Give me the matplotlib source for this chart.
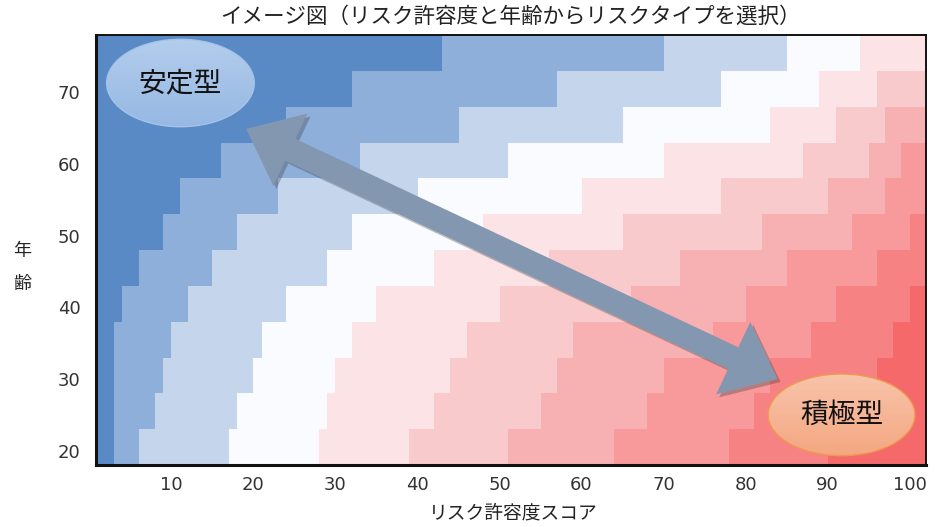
import numpy as np
import matplotlib
matplotlib.use("Agg")
import matplotlib.pyplot as plt
from matplotlib.patches import Ellipse, Polygon

plt.rcParams['font.family'] = ['Noto Sans CJK JP', 'DejaVu Sans']

# -----------------
# DATA
# -----------------
TITLE = 'イメージ図（リスク許容度と年齢からリスクタイプを選択）'
X_LABEL = 'リスク許容度スコア'
Y_LABEL = '年齢'

SCORE_RANGE = (0.8, 102.0)
AGE_EDGES = [18, 23, 28, 33, 38, 43, 48, 53, 58, 63, 68, 73, 78]
X_TICKS = [10, 20, 30, 40, 50, 60, 70, 80, 90, 100]
Y_TICKS = [20, 30, 40, 50, 60, 70]

# colour bands, from "stable" (blue) to "aggressive" (red)
BAND_COLORS = ['#5A8AC6', '#8EAFD9', '#C5D6EC', '#FAFBFE', '#FCE3E5',
               '#F9CACC', '#F8B1B3', '#F89A9B', '#F78284', '#F6696B']

# score where each row switches to the next band (bottom row first)
BAND_BOUNDS = [
    [3, 6, 17, 28, 39, 51, 64, 78, 90],
    [3, 8, 18, 29, 42, 55, 68, 81, 94],
    [3, 9, 20, 30, 44, 57, 70, 83, 96],
    [3, 10, 21, 32, 46, 59, 76, 88, 98],
    [4, 12, 24, 35, 50, 66, 80, 91, 100],
    [6, 15, 29, 42, 56, 72, 85, 96],
    [9, 18, 32, 48, 65, 82, 93, 100],
    [11, 23, 40, 60, 77, 90, 97],
    [16, 33, 51, 70, 87, 95, 99],
    [24, 45, 65, 83, 91, 97],
    [32, 57, 77, 89, 96],
    [43, 70, 85, 94],
]

# annotation positions (score, age)
STABLE_LABEL = ('安定型', 11.1, 71.3, 18.0, 12.2)
AGGRESSIVE_LABEL = ('積極型', 91.7, 25.0, 17.9, 11.4)
ARROW_ENDS = ((19.1, 64.9), (83.9, 30.0))


def gradient_ellipse(ax, cx, cy, w, h, top, bottom, edge):
    ell = Ellipse((cx, cy), w, h, facecolor='none', edgecolor=edge, lw=1.0, zorder=6)
    ax.add_patch(ell)
    c1 = np.array(matplotlib.colors.to_rgb(top))
    c2 = np.array(matplotlib.colors.to_rgb(bottom))
    t = np.linspace(0, 1, 64)[:, None]
    img = (c1 * (1 - t) + c2 * t)[:, None, :]
    im = ax.imshow(img, extent=(cx - w / 2, cx + w / 2, cy - h / 2, cy + h / 2),
                   origin='upper', aspect='auto', zorder=5, interpolation='bilinear')
    im.set_clip_path(ell)


def double_arrow(ax, p0, p1, shaft=12, head_w=40, head_l=49):
    # build the outline in pixels, then go back to data coordinates
    a = ax.transData.transform(p0)
    b = ax.transData.transform(p1)
    d = (b - a) / np.hypot(*(b - a))
    n = np.array([-d[1], d[0]])
    pts = [a,
           a + d * head_l + n * head_w,
           a + d * head_l + n * shaft,
           b - d * head_l + n * shaft,
           b - d * head_l + n * head_w,
           b,
           b - d * head_l - n * head_w,
           b - d * head_l - n * shaft,
           a + d * head_l - n * shaft,
           a + d * head_l - n * head_w]
    pts = np.array(pts)
    inv = ax.transData.inverted()
    shadow = inv.transform(pts + np.array([3, -3]))
    ax.add_patch(Polygon(shadow, closed=True, facecolor='#303030', alpha=0.3,
                         edgecolor='none', zorder=7))
    ax.add_patch(Polygon(inv.transform(pts), closed=True, facecolor='#8497B0',
                         edgecolor='none', zorder=8))


def main():
    fig = plt.figure(figsize=(9.35, 5.27), dpi=100)
    ax = fig.add_axes([96 / 935, 62 / 527, 830 / 935, 430 / 527])

    x_lo, x_hi = SCORE_RANGE
    for i, bounds in enumerate(BAND_BOUNDS):
        edges = [x_lo] + bounds
        h = AGE_EDGES[i + 1] - AGE_EDGES[i]
        for k, left in enumerate(edges):
            ax.barh(AGE_EDGES[i], x_hi - left, left=left, height=h, align='edge',
                    color=BAND_COLORS[k], linewidth=0, antialiased=False, zorder=1)

    ax.set_xlim(x_lo, x_hi)
    ax.set_ylim(AGE_EDGES[0], AGE_EDGES[-1])
    ax.set_xticks(X_TICKS)
    ax.set_yticks(Y_TICKS)
    ax.tick_params(length=0, labelsize=13, colors='#333333')
    ax.tick_params(axis='x', pad=8)
    ax.tick_params(axis='y', pad=11)
    for lab in ax.get_xticklabels() + ax.get_yticklabels():
        lab.set_family('DejaVu Sans')

    for side in ['left', 'bottom']:
        ax.spines[side].set_linewidth(2.2)
    for side in ['top', 'right']:
        ax.spines[side].set_linewidth(1.4)
    for sp in ax.spines.values():
        sp.set_color('#111111')
        sp.set_zorder(10)

    txt, cx, cy, w, h = STABLE_LABEL
    gradient_ellipse(ax, cx, cy, w, h, '#B3CDEC', '#96B8E3', '#A5C3E8')
    ax.text(cx, cy, txt, ha='center', va='center', fontsize=20, color='#111111', zorder=9)

    txt, cx, cy, w, h = AGGRESSIVE_LABEL
    gradient_ellipse(ax, cx, cy, w, h, '#F8C4AA', '#F4A782', '#EE9A4E')
    ax.text(cx, cy, txt, ha='center', va='center', fontsize=20, color='#111111', zorder=9)

    double_arrow(ax, ARROW_ENDS[0], ARROW_ENDS[1])

    fig.text(510 / 935, 1 - 17 / 527, TITLE, ha='center', va='center', fontsize=15.5, color='#222222')
    fig.text(513 / 935, 1 - 513 / 527, X_LABEL, ha='center', va='center', fontsize=13.5, color='#222222')
    fig.text(22.5 / 935, 1 - 251 / 527, Y_LABEL[0], ha='center', va='center', fontsize=13, color='#222222')
    fig.text(22.5 / 935, 1 - 284 / 527, Y_LABEL[1], ha='center', va='center', fontsize=13, color='#222222')

    fig.savefig('out.png', dpi=100)


if __name__ == "__main__":
    main()
